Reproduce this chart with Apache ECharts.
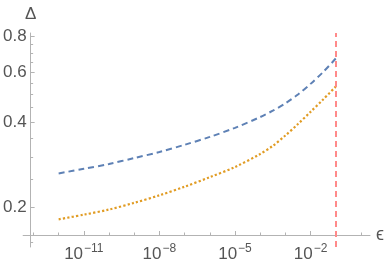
<!DOCTYPE html>
<html>
<head>
<meta charset="utf-8">
<script src="https://cdn.jsdelivr.net/npm/echarts@6/dist/echarts.min.js"></script>
<style>html,body{margin:0;padding:0;background:#fff}#c{width:390px;height:265px}</style>
</head>
<body>
<div id="c"></div>
<script>
// epsilon values (x) and Delta values (y)
const epsValues = [1e-12, 1e-11, 1e-10, 1e-9, 1e-8, 1e-7, 1e-6, 1e-5, 1e-4, 3.16e-4, 1e-3, 3.16e-3, 1e-2, 0.0316, 0.1];
const deltaDashed = [0.263, 0.273, 0.284, 0.298, 0.313, 0.332, 0.354, 0.381, 0.416, 0.438, 0.465, 0.500, 0.545, 0.600, 0.670];
const deltaDotted = [0.181, 0.188, 0.196, 0.207, 0.220, 0.236, 0.255, 0.277, 0.308, 0.329, 0.358, 0.393, 0.434, 0.480, 0.533];
const epsCut = 0.1;
const xMajorTicks = [1e-11, 1e-8, 1e-5, 1e-2];
const xMinorTicks = [1e-13, 1e-12, 1e-10, 1e-9, 1e-7, 1e-6, 1e-4, 1e-3, 1e-1, 1];
const yMajorTicks = [0.2, 0.4, 0.6, 0.8];
const yMinorTicks = [0.15, 0.25, 0.3, 0.35, 0.45, 0.5, 0.55, 0.65, 0.7, 0.75];
const xMin = Math.pow(10, -13.41), xMax = Math.pow(10, 0.36);
const yMin = 0.1445, yMax = 0.8245;

const axisCol = '#b3b3b3';
const txtCol = '#555555';
const font = 'Liberation Sans, Arial, sans-serif';

const chart = echarts.init(document.getElementById('c'), null, {renderer: 'canvas'});
const pair = (ys) => epsValues.map((x, i) => [x, ys[i]]);

chart.setOption({
  animation: false,
  grid: {left: 23, right: 20, top: 33, bottom: 18, containLabel: false},
  xAxis: [{
    type: 'log', logBase: 10, min: xMin, max: xMax, offset: -12, position: 'bottom',
    name: 'ϵ', nameLocation: 'end', nameGap: 6,
    nameTextStyle: {fontSize: 18, color: txtCol, fontFamily: font, verticalAlign: 'middle', padding: [0, 0, 2, 0]},
    axisLine: {lineStyle: {color: axisCol, width: 1}},
    splitLine: {show: false},
    minorTick: {show: false},
    axisTick: {inside: true, length: 4, lineStyle: {color: axisCol}, customValues: xMajorTicks},
    axisLabel: {
      customValues: xMajorTicks, margin: 8, color: txtCol,
      formatter: (v) => {
        const e = Math.round(Math.log10(v));
        return '{b|10}{s|' + (e < 0 ? '\u2212' : '') + Math.abs(e) + '}';
      },
      rich: {
        b: {fontSize: 17, lineHeight: 22, color: txtCol, fontFamily: font},
        s: {fontSize: 12, lineHeight: 12, verticalAlign: 'top', color: txtCol, fontFamily: font, padding: [0, 0, 0, 1]}
      }
    }
  }, {
    type: 'log', logBase: 10, min: xMin, max: xMax, offset: -12, position: 'bottom',
    axisLine: {show: true, lineStyle: {color: axisCol, opacity: 0}}, splitLine: {show: false},
    axisTick: {show: true, inside: true, length: 2.5, lineStyle: {color: axisCol}, customValues: xMinorTicks},
    axisLabel: {show: false}
  }],
  yAxis: [{
    type: 'log', logBase: 10, min: yMin, max: yMax, offset: -7.5, position: 'left',
    name: 'Δ', nameLocation: 'end', nameGap: 10,
    nameTextStyle: {fontSize: 17, color: txtCol, fontFamily: font, align: 'center'},
    axisLine: {lineStyle: {color: axisCol, width: 1}},
    splitLine: {show: false},
    axisTick: {inside: true, length: 4, lineStyle: {color: axisCol}, customValues: yMajorTicks},
    axisLabel: {customValues: yMajorTicks, margin: 4, fontSize: 17, color: txtCol, fontFamily: font,
      formatter: (v) => v.toFixed(1)}
  }, {
    type: 'log', logBase: 10, min: yMin, max: yMax, offset: -7.5, position: 'left',
    axisLine: {show: true, lineStyle: {color: axisCol, opacity: 0}}, splitLine: {show: false},
    axisTick: {show: true, inside: true, length: 2.5, lineStyle: {color: axisCol}, customValues: yMinorTicks},
    axisLabel: {show: false}
  }],
  series: [{
    type: 'line', data: pair(deltaDashed), showSymbol: false, smooth: 0.3,
    lineStyle: {color: '#5e81b5', width: 2, type: [6, 4]},
    markLine: {
      symbol: 'none', silent: true, label: {show: false},
      lineStyle: {color: '#ff8a8a', width: 2, type: [6, 4]},
      data: [{xAxis: epsCut}]
    }
  }, {
    type: 'line', data: pair(deltaDotted), showSymbol: false, smooth: 0.3,
    lineStyle: {color: '#e19c24', width: 2.2, type: [2.2, 2.2]}
  }]
});
</script>
</body>
</html>
